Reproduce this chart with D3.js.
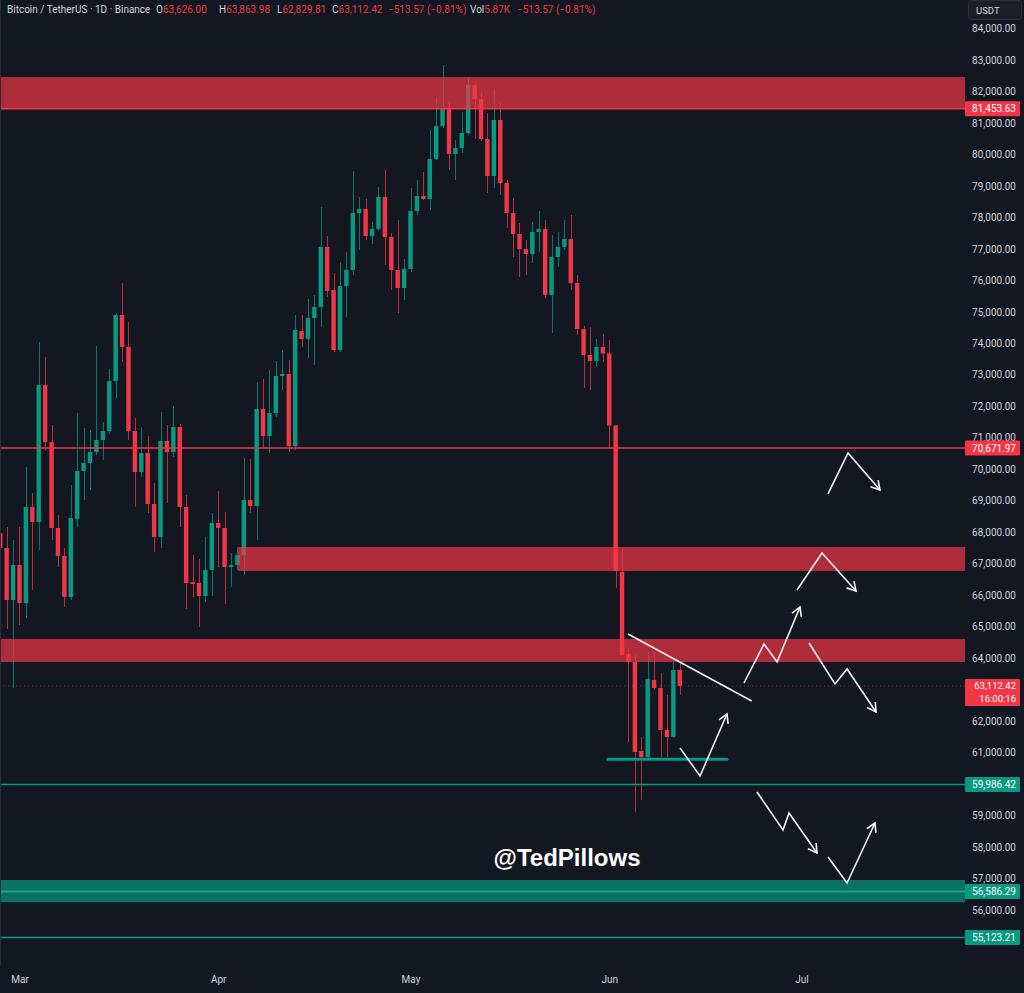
<!DOCTYPE html>
<html>
<head>
<meta charset="utf-8">
<script src="https://cdn.jsdelivr.net/npm/d3@7/dist/d3.min.js"></script>
<style>
  html, body { margin: 0; padding: 0; background: #131722; }
  svg { display: block; }
</style>
</head>
<body>
<div id="chart"></div>
<script>
// daily candles, first one is 26 Feb
const DAY = 864e5;
const firstDay = Date.UTC(2026, 1, 26);
const mar1 = Date.UTC(2026, 2, 1);

const opens = [67974, 67497, 65845, 66957, 65750, 68800, 68323, 72675, 70864, 68133,
  67243, 65941, 68418, 69943, 70197, 70547, 70928, 71214, 72802, 74899,
  73882, 71214, 69911, 70515, 68895, 67847, 70896, 70547, 71341, 68800,
  66417, 66385, 65972, 66798, 68291, 68133, 66894, 66957, 67275, 69022,
  68831, 71913, 71055, 71786, 72961, 73025, 70737, 74390, 74136, 74803,
  75153, 77059, 75693, 73787, 75820, 76328, 78139, 78266, 77408, 77631,
  78647, 77376, 76328, 75756, 76360, 78202, 78679, 78584, 79854, 80903,
  81443, 80013, 80204, 80680, 82205, 81760, 80490, 79314, 81093, 79092,
  78139, 77472, 76995, 76836, 77535, 77631, 75534, 76741, 77059, 77313,
  75915, 74454, 73628, 73437, 73882, 73676, 71388, 66735, 64130, 63876,
  61049, 60858, 63304, 63050, 61716, 61494, 63626];
const highs = [68387, 68164, 67751, 68164, 70070, 69244, 74041, 73565, 71404, 68546,
  67497, 69498, 71786, 71309, 71246, 73914, 71500, 73183, 74950, 75915,
  74676, 71627, 71341, 71055, 69562, 71817, 71404, 72008, 71436, 69181,
  67275, 67148, 67847, 68609, 69308, 68641, 67338, 67529, 70356, 70324,
  72770, 72866, 73152, 73437, 73787, 73469, 74899, 74899, 75407, 75534,
  78329, 77408, 76233, 76560, 76900, 79473, 78647, 78584, 77853, 78965,
  79505, 77504, 77917, 76678, 78933, 79187, 79441, 80776, 81792, 82840,
  81665, 80458, 81347, 82459, 82332, 81951, 81315, 82046, 81633, 79187,
  78615, 77821, 77281, 77853, 78202, 77917, 77440, 77535, 77917, 78075,
  76169, 74549, 74518, 74136, 74279, 74105, 71404, 67497, 64321, 64098,
  61494, 64194, 64194, 63527, 62828, 63876, 63863.98];
const lows = [67116, 64924, 63050, 65051, 65274, 66163, 67434, 70610, 67751, 66894,
  65623, 65845, 68164, 69022, 69340, 70451, 70293, 71119, 72262, 73406,
  70928, 68810, 69753, 68609, 67370, 67497, 68927, 70388, 68164, 65559,
  65941, 64988, 65782, 65972, 66894, 65718, 66258, 66798, 66640, 68609,
  67751, 70706, 70515, 71659, 72516, 70547, 70610, 73882, 73533, 73310,
  74518, 75471, 73723, 73723, 74835, 76169, 76964, 77281, 77154, 77567,
  76487, 75693, 74962, 75375, 76265, 78075, 78552, 78234, 79823, 80839,
  79505, 79187, 80045, 80617, 80490, 80426, 78774, 78933, 78711, 77662,
  76741, 76106, 76169, 76550, 76900, 75439, 74327, 76424, 76964, 75693,
  74263, 72580, 72516, 73247, 73406, 70642, 66227, 64066, 61335, 59111,
  59492, 60826, 62986, 60858, 60858, 61462, 62829.81];
const closes = [67497, 65845, 66957, 65750, 68800, 68323, 72675, 70864, 68133, 67243,
  65941, 68450, 69943, 70197, 70547, 70928, 71214, 72802, 74899, 73882,
  71214, 69911, 70515, 68895, 67847, 70896, 70547, 71341, 68800, 66385,
  66354, 65972, 66798, 68291, 68133, 66894, 66957, 67275, 69022, 68831,
  71913, 71055, 71786, 72961, 73025, 70737, 74422, 74136, 74803, 75153,
  77059, 75661, 73787, 75820, 76328, 78139, 78266, 77408, 77631, 78647,
  77376, 76328, 75756, 76360, 78202, 78679, 78584, 79854, 80903, 81443,
  80013, 80204, 80680, 82205, 81760, 80490, 79314, 81093, 79092, 78139,
  77472, 76995, 76836, 77535, 77631, 75534, 76741, 77059, 77313, 75915,
  74454, 73628, 73437, 73882, 73676, 71388, 66767, 64098, 63876, 61017,
  60858, 63336, 63050, 61716, 61494, 63622, 63112.42];

// zones [top, bottom, start day from 1 Mar (null = from left edge)]
const redZones = [[82459, 81453.63, null], [67529, 66767, 34.1], [64608, 63874, null]];
const greenZone = [56951, 56246, 56586.29];
const redLevels = [81453.63, 70671.97];
const greenLevels = [59986.42, 55123.21];
const lastPrice = 63112.42;
const countdown = "16:00:16";
// 63k, 60k and 55k sit under the price boxes, left out
const priceTicks = d3.range(56000, 84001, 1000).filter(v => v !== 63000 && v !== 60000);

// hand drawn bits, points as [days after 1 Mar, price]
const trendLine = [[94.93, 64765], [114.23, 62637]];
const baseLine = [[91.8, 60785], [110.37, 60785]];
const arrows = [
  [[103.04, 61144], [106.16, 60254], [110.37, 62224]],
  [[113.03, 63209], [116.15, 64448], [118.18, 63876], [121.76, 65623]],
  [[123.17, 64480], [127.22, 63177], [129.1, 63654], [133.62, 62288]],
  [[115.05, 59746], [119.11, 58539], [120.05, 59079], [124.41, 57808]],
  [[126.13, 57681], [129.1, 56855], [133.46, 58761]],
  [[121.29, 66163], [125.19, 67338], [130.5, 66131]],
  [[126.13, 69213], [129.25, 70515], [134.24, 69340]]
];

const W = 1024, H = 993, plotR = 965, plotB = 965;
const UP = "#089981", DOWN = "#f23645", TXT = "#d1d4dc", BG = "#131722";

const svg = d3.select("#chart").append("svg")
  .attr("width", W).attr("height", H)
  .style("font-family", "Roboto, 'Liberation Sans', sans-serif");

svg.append("rect").attr("width", W).attr("height", H).attr("fill", BG);

const x = d3.scaleUtc()
  .domain([new Date(mar1 - 3.04 * DAY), new Date(mar1 + 147.5 * DAY)])
  .range([0, plotR]);
const y = d3.scaleLinear().domain([56000, 84000]).range([909.9, 28.5]);
const dx = d => x(new Date(mar1 + d * DAY));

svg.append("defs").append("clipPath").attr("id", "plot")
  .append("rect").attr("width", plotR).attr("height", plotB);

const plot = svg.append("g").attr("clip-path", "url(#plot)");

const candles = opens.map((o, i) => ({
  t: new Date(firstDay + i * DAY), o, h: highs[i], l: lows[i], c: closes[i]
}));

const cg = plot.append("g").selectAll("g").data(candles).enter().append("g");
cg.append("line")
  .attr("x1", d => Math.round(x(d.t)) + 0.5).attr("x2", d => Math.round(x(d.t)) + 0.5)
  .attr("y1", d => y(d.h)).attr("y2", d => y(d.l))
  .attr("stroke", d => d.c >= d.o ? UP : DOWN).attr("stroke-width", 1).attr("opacity", 0.75);
cg.append("rect")
  .attr("x", d => x(d.t) - 2.2).attr("width", 4.4)
  .attr("y", d => y(Math.max(d.o, d.c)))
  .attr("height", d => Math.max(1.5, Math.abs(y(d.o) - y(d.c))))
  .attr("fill", d => d.c >= d.o ? UP : DOWN);

// zones above candles, semi transparent
plot.selectAll(".rz").data(redZones).enter().append("rect")
  .attr("x", d => d[2] === null ? 1 : dx(d[2]))
  .attr("width", d => plotR - (d[2] === null ? 1 : dx(d[2])))
  .attr("y", d => y(d[0])).attr("height", d => y(d[1]) - y(d[0]))
  .attr("fill", DOWN).attr("fill-opacity", 0.7);

plot.append("rect")
  .attr("x", 1).attr("width", plotR - 1)
  .attr("y", y(greenZone[0])).attr("height", y(greenZone[1]) - y(greenZone[0]))
  .attr("fill", UP).attr("fill-opacity", 0.7);
plot.append("line")
  .attr("x1", 1).attr("x2", plotR).attr("y1", y(greenZone[2])).attr("y2", y(greenZone[2]))
  .attr("stroke", "#19a88c").attr("stroke-width", 2);

plot.selectAll(".rl").data(redLevels).enter().append("line")
  .attr("x1", 1).attr("x2", plotR).attr("y1", d => y(d)).attr("y2", d => y(d))
  .attr("stroke", DOWN).attr("stroke-width", 1.5);
plot.selectAll(".gl").data(greenLevels).enter().append("line")
  .attr("x1", 1).attr("x2", plotR).attr("y1", d => y(d)).attr("y2", d => y(d))
  .attr("stroke", UP).attr("stroke-width", 1.5);

plot.append("line")
  .attr("x1", 0).attr("x2", plotR).attr("y1", y(lastPrice)).attr("y2", y(lastPrice))
  .attr("stroke", DOWN).attr("stroke-opacity", 0.55).attr("stroke-dasharray", "1,3");

// drawings
const line = d3.line().x(p => dx(p[0])).y(p => y(p[1]));
plot.append("path").attr("d", line(trendLine))
  .attr("fill", "none").attr("stroke", "#f0f0f0").attr("stroke-width", 1.6);
plot.append("path").attr("d", line(baseLine))
  .attr("fill", "none").attr("stroke", UP).attr("stroke-width", 3).attr("stroke-linecap", "round");

arrows.forEach(pts => {
  plot.append("path").attr("d", line(pts))
    .attr("fill", "none").attr("stroke", "#f2f2f2").attr("stroke-width", 1.6)
    .attr("stroke-linejoin", "miter");
  const a = pts[pts.length - 2], b = pts[pts.length - 1];
  const x1 = dx(a[0]), y1 = y(a[1]), x2 = dx(b[0]), y2 = y(b[1]);
  const ang = Math.atan2(y2 - y1, x2 - x1), len = 10, spread = Math.PI / 6;
  const head = [
    [x2 - len * Math.cos(ang - spread), y2 - len * Math.sin(ang - spread)],
    [x2, y2],
    [x2 - len * Math.cos(ang + spread), y2 - len * Math.sin(ang + spread)]
  ];
  plot.append("path").attr("d", d3.line()(head))
    .attr("fill", "none").attr("stroke", "#f2f2f2").attr("stroke-width", 1.6);
});

// watermark
svg.append("text").attr("x", 567).attr("y", 866).attr("text-anchor", "middle")
  .attr("font-family", "'Liberation Sans', Arial, sans-serif")
  .attr("font-weight", "bold").attr("font-size", 24).attr("fill", "#ffffff")
  .text("@TedPillows");

// left border
svg.append("line").attr("x1", 0.5).attr("x2", 0.5).attr("y1", 0).attr("y2", plotB)
  .attr("stroke", "#2a2e39");

// price axis
const yAxis = d3.axisRight(y).tickValues(priceTicks).tickSize(0).tickPadding(0)
  .tickFormat(d3.format(",.2f"));
const ya = svg.append("g").attr("transform", `translate(1016,0)`).call(yAxis);
ya.select(".domain").remove();
ya.selectAll("text").attr("text-anchor", "end").attr("fill", TXT)
  .attr("font-size", 10).attr("font-family", "Roboto, sans-serif");

// time axis
const xAxis = d3.axisBottom(x).ticks(d3.utcMonth.every(1)).tickSize(0).tickPadding(0)
  .tickFormat(d3.utcFormat("%b"));
const xa = svg.append("g").attr("transform", `translate(0,976)`).call(xAxis);
xa.select(".domain").remove();
xa.selectAll("text").attr("fill", TXT).attr("font-size", 10)
  .attr("font-family", "Roboto, sans-serif");

// price labels on the axis
const fmt = d3.format(",.2f");
const labels = redLevels.map(v => ({ v, c: DOWN }))
  .concat([greenLevels[0], greenZone[2], greenLevels[1]].map(v => ({ v, c: UP })));
const lg = svg.selectAll(".lbl").data(labels).enter().append("g");
lg.append("rect").attr("x", 965).attr("width", 55)
  .attr("y", d => y(d.v) - 7.5).attr("height", 15).attr("rx", 1)
  .attr("fill", d => d.c);
lg.append("text").attr("x", 1016).attr("y", d => y(d.v) + 3.6)
  .attr("text-anchor", "end").attr("font-size", 10).attr("fill", "#ffffff")
  .text(d => fmt(d.v));

const ly = y(lastPrice);
svg.append("rect").attr("x", 965).attr("width", 55).attr("y", ly - 7).attr("height", 27)
  .attr("rx", 1).attr("fill", DOWN);
svg.append("text").attr("x", 1016).attr("y", ly + 3.3).attr("text-anchor", "end")
  .attr("font-size", 9.5).attr("fill", "#ffffff").text(fmt(lastPrice));
svg.append("text").attr("x", 1016).attr("y", ly + 16).attr("text-anchor", "end")
  .attr("font-size", 9.5).attr("fill", "#ffffff").text(countdown);

// currency box
svg.append("rect").attr("x", 968.5).attr("y", 0.5).attr("width", 53).attr("height", 19)
  .attr("rx", 3).attr("fill", "#1a1e29").attr("stroke", "#2a2e39");
svg.append("text").attr("x", 976).attr("y", 13.5).attr("font-size", 9.5)
  .attr("fill", TXT).text("USDT");

// legend line
const head = svg.append("text").attr("y", 13).attr("font-size", 10).attr("fill", TXT);
const parts = [
  [7, "Bitcoin / TetherUS · 1D · Binance", TXT],
  [156, "O", TXT], [null, "63,626.00", DOWN],
  [219, "H", TXT], [null, "63,863.98", DOWN],
  [277, "L", TXT], [null, "62,829.81", DOWN],
  [332, "C", TXT], [null, "63,112.42", DOWN],
  [388, "\u2212513.57 (\u22120.81%)", DOWN],
  [470, "Vol", TXT], [null, "5.87K", DOWN],
  [517, "\u2212513.57 (\u22120.81%)", DOWN]
];
parts.forEach(p => {
  const ts = head.append("tspan").attr("fill", p[2]).text(p[1]);
  if (p[0] !== null) ts.attr("x", p[0]);
});
</script>
</body>
</html>
